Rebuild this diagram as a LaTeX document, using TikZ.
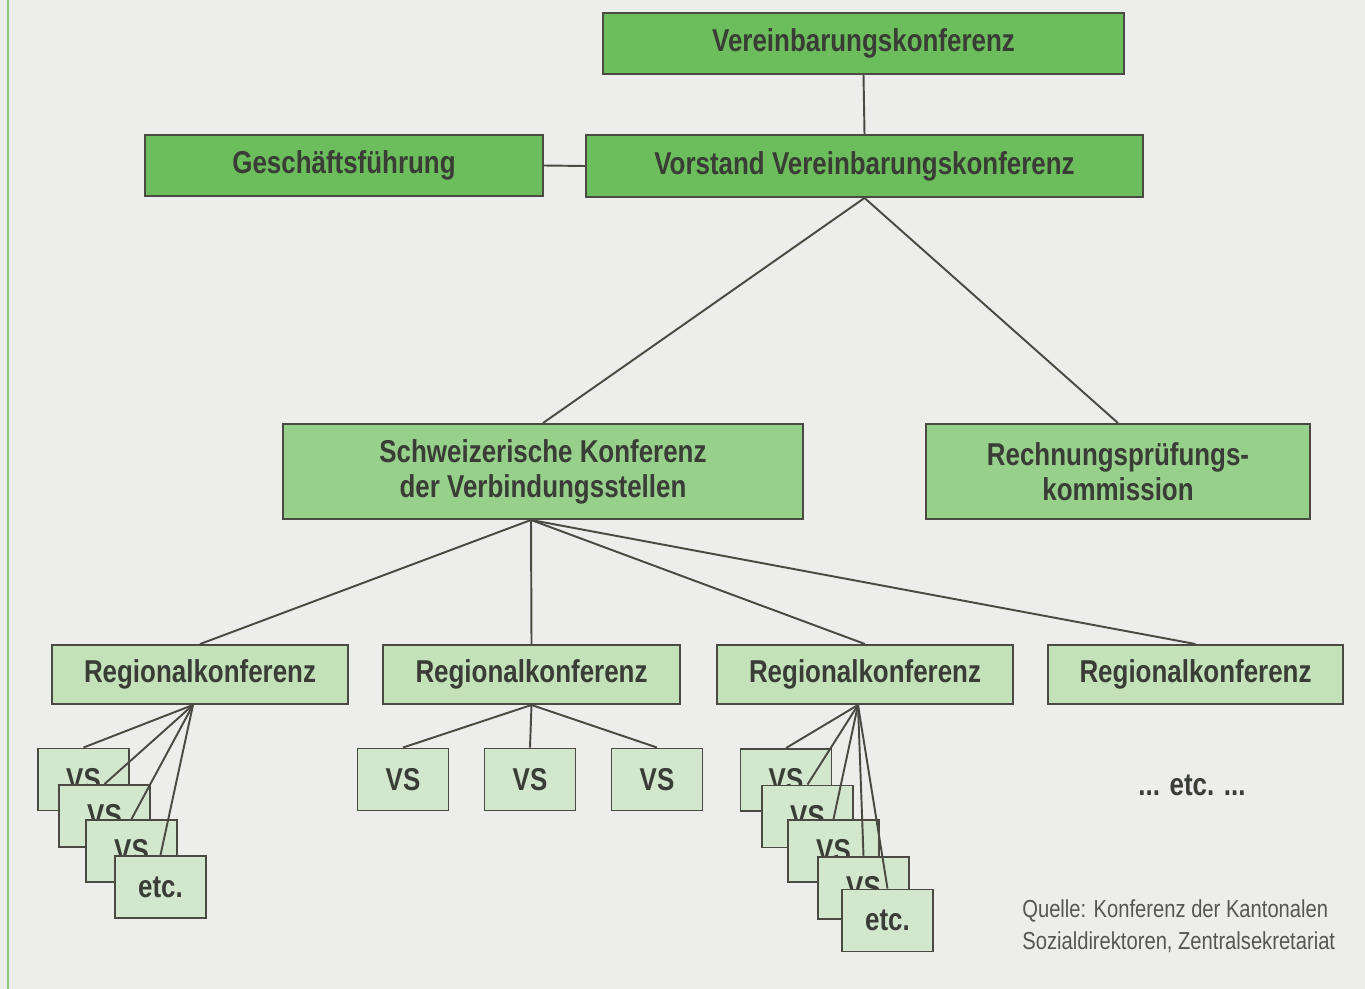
\documentclass[tikz,border=0pt]{standalone}
\usepackage{fontspec}
\setmainfont{Liberation Sans}[FakeStretch=0.82]
\usepackage{xcolor}
\usetikzlibrary{positioning}
\definecolor{papier}{HTML}{EDEDEB}
\definecolor{dunkelgruen}{HTML}{6CBD5C}
\definecolor{mittelgruen}{HTML}{96D08A}
\definecolor{hellgruen}{HTML}{C3E2BA}
\definecolor{blassgruen}{HTML}{D3E7CE}
\definecolor{rand}{HTML}{4A4A42}
\definecolor{schrift}{HTML}{3A3D36}
\definecolor{quellgrau}{HTML}{555752}
\definecolor{randlinie}{HTML}{8CC97A}

\begin{document}
\begin{tikzpicture}[x=0.02cm, y=-0.02cm,
  kasten/.style 2 args={draw=rand, line width=1.1pt, inner sep=0pt,
    minimum width=#1*0.02cm, minimum height=#2*0.02cm, text=schrift,
    font=\bfseries\fontsize{18}{20}\selectfont, align=center},
  vs/.style={kasten={91}{62}, fill=blassgruen},
  verbindung/.style={draw=rand, line width=1.1pt}]
\useasboundingbox (0,0) rectangle (1365,989);
\fill[papier] (0,0) rectangle (1365,989);
\draw[randlinie, line width=1.2pt] (8,0) -- (8,989);

% oberste Ebene
\node[kasten={521}{61}, fill=dunkelgruen] (vk) at (863.5,43.5) {Vereinbarungskonferenz};
\node[kasten={398}{61}, fill=dunkelgruen] (gf) at (344,165.5) {Geschäftsführung};
\node[kasten={557}{62}, fill=dunkelgruen] (vv) at (864.5,166) {Vorstand Vereinbarungskonferenz};
\draw[verbindung] (vk.south) -- (vv.north);
\draw[verbindung] (gf.east) -- (vv.west);

% zweite Ebene
\node[kasten={520}{95}, fill=mittelgruen] (skv) at (543,471.5) {Schweizerische Konferenz\\der Verbindungsstellen};
\node[kasten={384}{95}, fill=mittelgruen] (rpk) at (1118,471.5) {Rechnungsprüfungs-\\kommission};
\draw[verbindung] (vv.south) -- (skv.north);
\draw[verbindung] (vv.south) -- (rpk.north);

% Regionalkonferenzen
\coordinate (hs) at ([xshift=-0.24cm]skv.south);
\node[kasten={296}{59}, fill=hellgruen] (rk1) at (200,674.5) {Regionalkonferenz};
\node[kasten={297}{59}, fill=hellgruen] (rk2) at (531.5,674.5) {Regionalkonferenz};
\node[kasten={296}{59}, fill=hellgruen] (rk3) at (865,674.5) {Regionalkonferenz};
\node[kasten={295}{59}, fill=hellgruen] (rk4) at (1195.5,674.5) {Regionalkonferenz};
\foreach \r in {rk1,rk2,rk3,rk4}
  \draw[verbindung] (hs) -- (\r.north);

% Verbindungsstellen unter rk1
\coordinate (h1) at ([xshift=-0.14cm]rk1.south);
\node[vs] (a1) at (83.5,779.5) {VS};
\draw[verbindung] (h1) -- (a1.north);
\node[vs] (a2) at (104.5,816) {VS};
\draw[verbindung] (h1) -- (a2.north);
\node[vs] (a3) at (131.5,851) {VS};
\draw[verbindung] (h1) -- (a3.north);
\node[vs] (a4) at (160.5,887) {etc.};
\draw[verbindung] (h1) -- (a4.north);

% Verbindungsstellen unter rk2
\node[vs] (b1) at (403,779.5) {VS};
\node[vs] (b2) at (530,779.5) {VS};
\node[vs] (b3) at (657,779.5) {VS};
\foreach \b in {b1,b2,b3}
  \draw[verbindung] (rk2.south) -- (\b.north);

% Verbindungsstellen unter rk3
\coordinate (h3) at ([xshift=-0.14cm]rk3.south);
\node[vs] (c1) at (786,780) {VS};
\draw[verbindung] (h3) -- (c1.north);
\node[vs] (c2) at (807.5,816.5) {VS};
\draw[verbindung] (h3) -- (c2.north);
\node[vs] (c3) at (833.5,851) {VS};
\draw[verbindung] (h3) -- (c3.north);
\node[vs] (c4) at (863.5,888) {VS};
\draw[verbindung] (h3) -- (c4.north);
\node[vs] (c5) at (887.5,920.5) {etc.};
\draw[verbindung] (h3) -- (c5.north);

\node[text=schrift, font=\bfseries\fontsize{18}{20}\selectfont] (etc) at (1192,785) {... etc. ...};

% Quelle
\node[anchor=west, align=left, inner sep=0pt, text=quellgrau,
  font=\fontsize{14}{18}\selectfont] (quelle) at (1022,926) {Quelle: Konferenz der Kantonalen\\Sozialdirektoren, Zentralsekretariat};
\end{tikzpicture}
\end{document}
